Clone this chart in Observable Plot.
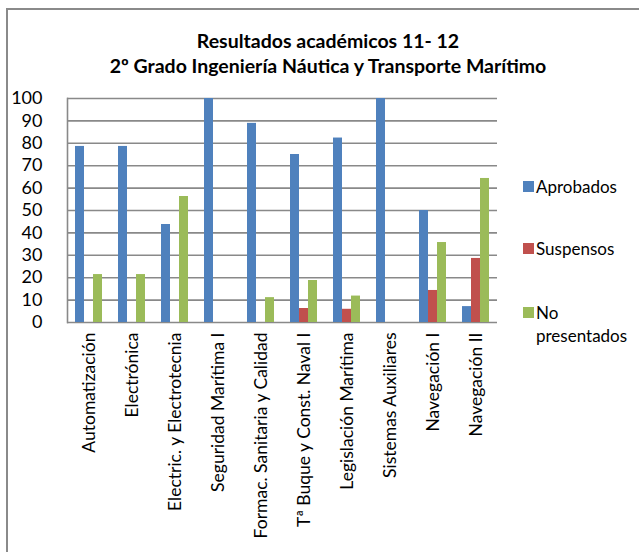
<!DOCTYPE html>
<html>
<head>
<meta charset="utf-8">
<script src="https://cdn.jsdelivr.net/npm/d3@7"></script>
<script src="https://cdn.jsdelivr.net/npm/@observablehq/plot@0.6"></script>
<style>
  html, body { margin: 0; padding: 0; background: #fff; }
  #wrap { position: relative; width: 639px; height: 552px; overflow: hidden; font-family: Lato, sans-serif; color: #000; }
  #border { position: absolute; left: 6px; top: 8px; width: 700px; height: 700px; border: 2px solid #8a8a8a; box-sizing: border-box; }
  #title { position: relative; height: 84px; }
  .tline { position: absolute; left: 0; width: 656px; text-align: center; font-weight: bold; font-size: 19.5px; white-space: nowrap; line-height: 22px; }
  #chart { position: relative; }
  #chart svg { display: block; background: transparent; }
  .leg { position: absolute; font-size: 17px; white-space: nowrap; line-height: 23px; }
  .sw { position: absolute; width: 11px; height: 11px; }
</style>
</head>
<body>
<div id="wrap">
  <div id="border"></div>
  <div id="title"></div>
  <div id="chart"></div>
  <div id="legend"></div>
</div>
<script>
const titleLines = ["Resultados académicos 11- 12", "2º Grado Ingeniería Náutica y Transporte Marítimo"];
const categories = ["Automatización", "Electrónica", "Electric. y Electrotecnia", "Seguridad Marítima I", "Formac. Sanitaria y Calidad", "Tª Buque y Const. Naval I", "Legislación Marítima", "Sistemas Auxiliares", "Navegación I", "Navegación II"];
const series = ["Aprobados", "Suspensos", "No presentados"];
const aprobados = [78.6, 78.6, 43.75, 100, 88.9, 75, 82.35, 100, 50, 7.1];
const suspensos = [0, 0, 0, 0, 0, 6.25, 5.9, 0, 14.3, 28.6];
const noPresentados = [21.4, 21.4, 56.25, 0, 11.1, 18.75, 11.8, 0, 35.7, 64.3];
const colors = ["#4F81BD", "#C0504D", "#9BBB59"];
const yTicks = [0, 10, 20, 30, 40, 50, 60, 70, 80, 90, 100];
const legendLabels = [["Aprobados"], ["Suspensos"], ["No", "presentados"]];

const valuesBySeries = [aprobados, suspensos, noPresentados];
const rows = [];
categories.forEach((c, i) => series.forEach((s, j) => rows.push({cat: c, serie: s, value: valuesBySeries[j][i]})));

// Title
const title = document.getElementById("title");
[ [48, titleLines[0]], [73, titleLines[1]] ].forEach(([base, t]) => {
  const d = document.createElement("div");
  d.className = "tline";
  d.style.top = (base - 18) + "px";
  d.textContent = t;
  title.appendChild(d);
});

const chart = Plot.plot({
  width: 639,
  height: 468,
  marginLeft: 63,
  marginRight: 138,
  marginTop: 14,
  marginBottom: 230,
  style: {fontFamily: "Lato, sans-serif", color: "#000", background: "transparent", overflow: "visible"},
  fx: {domain: categories, padding: 0, label: null},
  x: {domain: series, paddingInner: 0, paddingOuter: 0.75, axis: null},
  y: {domain: [0, 100], label: null},
  color: {domain: series, range: colors},
  marks: [
    Plot.ruleY(yTicks, {stroke: "#898989", strokeWidth: 1.6}),
    Plot.barY(rows, {fx: "cat", x: "serie", y: "value", fill: "serie"}),
    Plot.frame({anchor: "left", facetAnchor: "left", stroke: "#898989", strokeWidth: 1.6}),
    Plot.axisY(yTicks, {tickSize: 0, tickPadding: 25, fontSize: 18, tickFormat: d => String(d), label: null}),
    Plot.axisFx({anchor: "bottom", tickRotate: -90, tickSize: 0, tickPadding: 10, fontSize: 17.5, label: null})
  ]
});
document.getElementById("chart").appendChild(chart);

// Legend
const legend = document.getElementById("legend");
const legTop = [181, 243, 307];
series.forEach((s, i) => {
  const sw = document.createElement("div");
  sw.className = "sw";
  sw.style.left = "523px";
  sw.style.top = legTop[i] + "px";
  sw.style.background = colors[i];
  legend.appendChild(sw);
  const t = document.createElement("div");
  t.className = "leg";
  t.style.left = "536px";
  t.style.top = (legTop[i] - 6) + "px";
  t.innerHTML = legendLabels[i].join("<br>");
  legend.appendChild(t);
});
</script>
</body>
</html>
